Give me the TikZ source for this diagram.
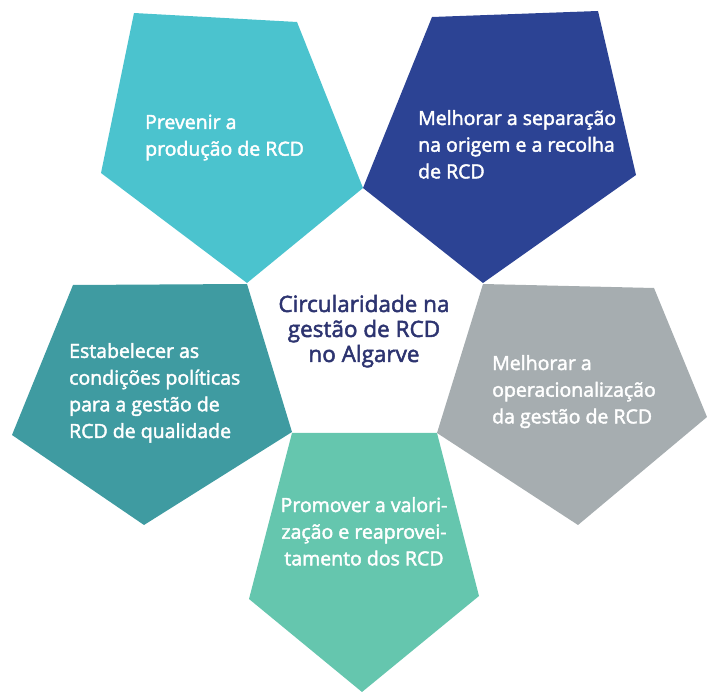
\documentclass[tikz,border=0pt]{standalone}
\usepackage{fontspec}
\setmainfont{Open Sans}
\newfontfamily\semifont{Open Sans}[FakeBold=2.2]
\usetikzlibrary{positioning}
\definecolor{prevcol}{HTML}{4BC3CE}
\definecolor{sepcol}{HTML}{2C4394}
\definecolor{polcol}{HTML}{3F9BA1}
\definecolor{opcol}{HTML}{A6ADB0}
\definecolor{valcol}{HTML}{65C6AE}
\definecolor{midcol}{HTML}{2D3470}

\begin{document}
\begin{tikzpicture}[x=1pt,y=-1pt,
  lbl/.style={font=\fontsize{19.5}{26.7}\selectfont\semifont,text=white,align=left,inner sep=0pt,anchor=base west},
  mid/.style={font=\fontsize{22.5}{25}\selectfont\semifont,text=midcol,align=center,inner sep=0pt,anchor=base}]
\useasboundingbox (0,0) rectangle (707,692);
% pentagons
\fill[prevcol] (134,13) -- (297,22) -- (363,188) -- (247,283) -- (101,173) -- cycle;
\fill[sepcol] (432,17) -- (598,11) -- (636,175) -- (483,283) -- (363,188) -- cycle;
\fill[polcol] (73,285) -- (247,284) -- (292,432) -- (144,525) -- (12,435) -- cycle;
\fill[opcol] (483,284) -- (654,288) -- (707,417) -- (578,525) -- (437,433) -- cycle;
\fill[valcol] (292,433) -- (437,433) -- (479,596) -- (362,692) -- (249,599) -- cycle;
% labels (anchored at the last line)
\node[lbl] (prev) at (145,155.7) {Prevenir a\\produção de RCD};
\node[lbl] (sep) at (418,178.4) {Melhorar a separação\\na origem e a recolha\\de RCD};
\node[lbl] (pol) at (69,438) {Estabelecer as\\condições políticas\\para a gestão de\\RCD de qualidade};
\node[lbl] (op) at (492,423.4) {Melhorar a\\operacionalização\\da gestão de RCD};
\node[lbl,align=center,anchor=base] (val) at (364,565.4) {Promover a valori-\\zação e reaprovei-\\tamento dos RCD};
\node[mid] (circ) at (364,362) {Circularidade na\\gestão de RCD\\no Algarve};
\end{tikzpicture}
\end{document}
